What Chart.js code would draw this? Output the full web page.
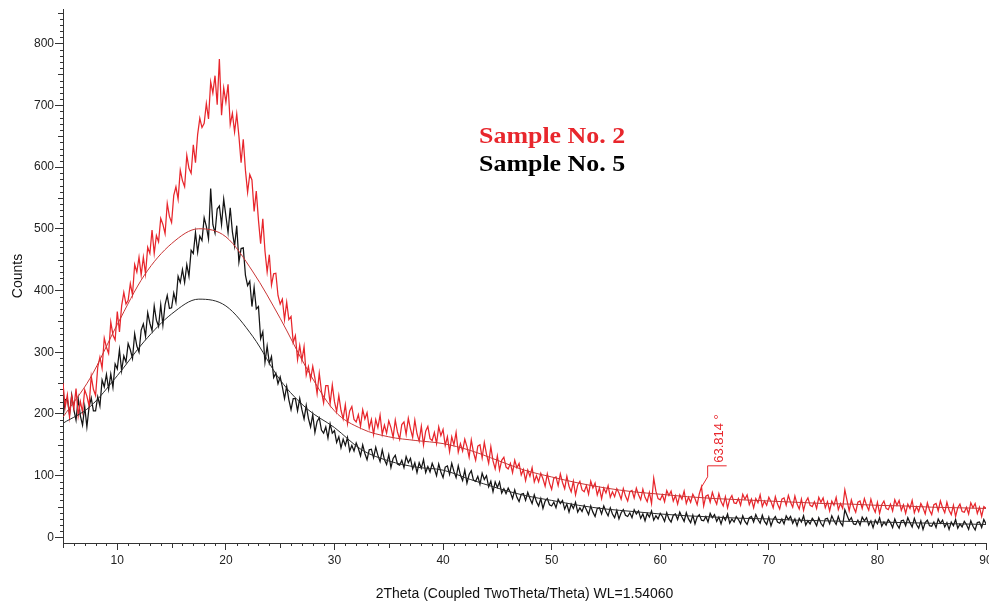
<!DOCTYPE html>
<html><head><meta charset="utf-8">
<script src="https://cdn.jsdelivr.net/npm/chart.js@4.4.1/dist/chart.umd.min.js"></script>
<style>html,body{margin:0;padding:0;background:#fff;}#wrap{width:989px;height:603px;}</style>
</head><body><div id="wrap"><canvas id="c" width="989" height="603"></canvas></div>
<script>
// 2Theta sampling of the measured patterns
const thetaStart = 5, thetaStep = 0.2;
// Sample No. 2 (red) measured counts, 5.0 .. 90.0 every 0.2 (one line = 2 degrees)
const sample2Counts = [
250,211,231,195,229, 209,241,197,220,203,
239,229,213,261,240, 230,276,292,274,323,
308,298,349,328,320, 366,333,375,397,378,
384,411,393,442,430, 454,425,454,427,470,
460,498,460,489,479, 517,507,492,541,520,
510,554,568,548,595, 578,568,619,598,590,
636,607,653,679,664, 671,703,678,738,720,
748,701,775,684,728, 705,734,669,687,657,
686,650,607,645,595, 559,588,579,528,561,
514,476,516,464,430, 458,409,427,428,392,
378,386,353,381,353, 358,316,327,288,311,
287,309,263,277,256, 277,258,233,266,237,
218,246,246,217,247, 220,204,230,206,192,
215,184,205,212,191, 187,199,180,207,192,
202,177,191,167,191, 178,198,167,182,169,
189,178,162,190,171, 159,183,187,167,193,
176,162,190,168,156, 180,150,172,180,160,
157,170,152,179,165, 175,149,163,139,163,
150,170,138,152,140, 159,147,130,158,138,
125,148,150,129,154, 135,120,147,124,111,
132,109,125,130,114, 111,120,105,125,113,
120,101,110,92,109, 99,113,90,100,90,
104,95,83,103,88, 78,96,98,84,103,
89,79,99,83,74, 91,69,85,91,77,
74,84,70,91,80, 88,69,80,63,80,
72,84,65,74,66, 79,72,62,79,67,
59,74,76,64,80, 69,61,78,65,58,
73,55,96,75,63, 61,69,58,76,68,
75,59,68,54,69, 62,75,55,65,57,
70,63,53,71,82, 51,67,69,57,73,
62,54,71,58,51, 66,48,62,68,56,
55,63,52,70,62, 69,53,62,48,63,
56,69,50,59,52, 65,58,48,66,54,
46,62,64,52,68, 57,49,67,54,46,
62,44,58,64,52, 50,58,47,65,57,
64,48,58,43,59, 52,65,45,55,47,
77,60,43,61,49, 41,57,59,47,63,
52,44,62,49,41, 57,39,53,59,47,
45,54,43,61,52, 60,44,53,39,54,
47,60,40,50,42, 55,48,38,56,44,
37,53,55,43,59, 48,40,57,44,37,
52,34,48,54,42, 41,49,38,56,48,
55,39,49,34,50,
47];
// Sample No. 5 (black) measured counts, 5.0 .. 90.0 every 0.2
const sample5Counts = [
193,223,225,199,231, 207,190,225,197,182,
212,179,211,226,205, 205,228,213,255,244,
264,240,265,243,281, 273,304,270,294,284,
314,304,290,330,310, 300,336,346,326,364,
347,335,375,352,342, 377,344,377,392,371,
372,396,381,423,413, 434,413,442,423,465,
460,494,462,488,481, 518,504,484,565,507,
493,532,537,507,548, 521,494,534,495,472,
505,446,468,469,425, 408,415,374,405,370,
374,322,333,284,310, 282,293,259,266,249,
260,244,225,245,223, 207,225,225,205,225,
207,192,214,193,179, 199,170,188,194,174,
169,179,161,184,169, 173,154,163,145,159,
149,162,140,149,140, 153,144,132,150,136,
126,142,143,129,146, 133,123,142,126,118,
134,113,128,133,119, 117,125,113,131,121,
128,111,121,105,121, 112,126,105,115,106,
120,111,100,119,106, 97,114,116,102,120,
107,97,116,101,92, 109,88,102,108,93,
91,99,86,104,94, 100,82,91,74,90,
81,90,72,79,71, 80,73,63,77,65,
58,70,71,60,73, 63,55,69,58,51,
63,47,59,63,53, 51,57,48,62,55,
60,46,54,41,54, 47,57,41,48,42,
52,45,37,51,41, 34,47,48,38,51,
42,35,48,38,32, 44,30,40,45,36,
34,40,32,45,38, 43,31,38,27,39,
33,43,28,35,30, 39,34,26,40,30,
25,36,38,29,41, 33,26,40,30,24,
36,22,33,37,28, 27,34,25,39,32,
37,26,33,22,34, 28,38,23,30,25,
34,29,22,35,26, 21,32,34,25,37,
29,23,36,26,21, 33,19,29,34,25,
23,30,22,35,29, 34,23,30,19,31,
25,35,20,27,22, 31,26,19,32,23,
18,30,31,22,35, 27,21,34,24,19,
45,36,27,32,22, 21,28,20,33,27,
32,20,27,16,28, 22,32,18,25,20,
29,24,16,30,21, 15,27,28,19,32,
24,17,31,21,15, 27,13,24,28,19,
18,25,16,30,23, 28,17,24,13,25,
19,29,15,22,17, 26,21,13,27,18,
12,24,25,16,29,
22];
// Fitted amorphous backgrounds, 5 .. 90 every 2.5
const fitStart = 5, fitStep = 2.5;
const sample2Fit = [195,258,345,425,476,500,487,430,355,272,205,176,163,157,152,141,125,109,98,88,80,74,70,66,63,61,59,57,55,54,52,51,49,48,47];
const sample5Fit = [185,212,262,318,362,386,375,325,255,208,178,142,124,114,109,94,80,68,60,52,46,42,38,35,33,31,30,28,27,26,25,24,23,22,21];
// Axis ticks and labels
const xTickValues = [10,20,30,40,50,60,70,80,90];
const yTickValues = [0,100,200,300,400,500,600,700,800];
const legendLabels = ['Sample No. 2','Sample No. 5'];
const peakTheta = 63.814, peakCounts = 82, peakLabel = '63.814 °';

const RED = '#e8262c', BLACK = '#141414', RED_FIT = '#c93535', BLACK_FIT = '#2a2a2a', AXIS = '#333';
const toPts = (arr, start, step) => arr.map((v, i) => ({x: +(start + i * step).toFixed(2), y: v}));

const axisTicks = {
  id: 'axisTicks',
  afterDraw(chart) {
    const {ctx, scales: {x, y}, chartArea: a} = chart;
    ctx.save(); ctx.strokeStyle = AXIS; ctx.lineWidth = 1; ctx.beginPath();
    for (let v = 5; v <= 90; v++) {
      if (v % 10 === 0) continue;
      const px = Math.round(x.getPixelForValue(v)) + 0.5;
      const len = v % 5 === 0 ? 5 : 3;
      ctx.moveTo(px, a.bottom); ctx.lineTo(px, a.bottom + len);
    }
    for (let v = 0; v <= 850; v += 10) {
      if (v % 100 === 0) continue;
      const py = Math.round(y.getPixelForValue(v)) + 0.5;
      const len = v % 50 === 0 ? 5 : 3;
      ctx.moveTo(a.left, py); ctx.lineTo(a.left - len, py);
    }
    ctx.stroke(); ctx.restore();
  }
};

const notes = {
  id: 'notes',
  afterDatasetsDraw(chart) {
    const {ctx, scales: {x, y}, chartArea: a} = chart;
    ctx.save();
    const colors = [RED, '#000'];
    ctx.font = 'bold 24px "Liberation Serif", "Times New Roman", serif';
    ctx.textBaseline = 'alphabetic'; ctx.textAlign = 'left';
    legendLabels.forEach((t, i) => {
      ctx.save();
      ctx.translate(a.left + 416, a.top + 134 + i * 28);
      ctx.scale(1.08, 1);
      ctx.fillStyle = colors[i];
      ctx.fillText(t, 0, 0);
      ctx.restore();
    });
    const px = x.getPixelForValue(peakTheta), py = y.getPixelForValue(peakCounts);
    ctx.strokeStyle = RED; ctx.lineWidth = 1;
    ctx.beginPath();
    ctx.moveTo(px, py); ctx.lineTo(px + 6, py - 10); ctx.lineTo(px + 6, py - 21); ctx.lineTo(px + 25, py - 21);
    ctx.stroke();
    ctx.translate(px + 21, py - 24); ctx.rotate(-Math.PI / 2);
    ctx.fillStyle = RED; ctx.font = '13px "Liberation Sans", Arial, sans-serif';
    ctx.fillText(peakLabel, 0, 0);
    ctx.restore();
  }
};

const tickFont = {family: '"Liberation Sans", Arial, sans-serif', size: 12};
const titleFont = {family: '"Liberation Sans", Arial, sans-serif', size: 14};

new Chart(document.getElementById('c'), {
  type: 'line',
  data: {datasets: [
    {label: 'Sample No. 2 fit', data: toPts(sample2Fit, fitStart, fitStep), borderColor: RED_FIT, borderWidth: 1, pointRadius: 0, cubicInterpolationMode: 'monotone'},
    {label: 'Sample No. 5 fit', data: toPts(sample5Fit, fitStart, fitStep), borderColor: BLACK_FIT, borderWidth: 1, pointRadius: 0, cubicInterpolationMode: 'monotone'},
    {label: legendLabels[0], data: toPts(sample2Counts, thetaStart, thetaStep), borderColor: RED, borderWidth: 1.25, pointRadius: 0, tension: 0},
    {label: legendLabels[1], data: toPts(sample5Counts, thetaStart, thetaStep), borderColor: BLACK, borderWidth: 1.25, pointRadius: 0, tension: 0}
  ]},
  options: {
    responsive: false, animation: false, devicePixelRatio: 1,
    layout: {padding: {left: 0, right: 3, top: 9, bottom: 0}},
    plugins: {legend: {display: false}, tooltip: {enabled: false}},
    scales: {
      x: {
        type: 'linear', min: 5, max: 90,
        afterBuildTicks: s => { s.ticks = xTickValues.map(v => ({value: v})); },
        afterFit: s => { s.height = 60; s.paddingLeft = 0; s.paddingRight = 0; },
        grid: {drawOnChartArea: false, drawTicks: true, tickLength: 7, color: AXIS, tickColor: AXIS},
        border: {display: true, color: AXIS, width: 1},
        ticks: {autoSkip: false, maxRotation: 0, padding: 3, color: '#222', font: tickFont},
        title: {display: true, text: '2Theta (Coupled TwoTheta/Theta) WL=1.54060', color: '#111', font: titleFont, padding: {top: 0, bottom: 0}}
      },
      y: {
        type: 'linear', min: -9, max: 856,
        afterBuildTicks: s => { s.ticks = yTickValues.map(v => ({value: v})); },
        afterFit: s => { s.width = 63; s.paddingTop = 0; s.paddingBottom = 0; },
        grid: {drawOnChartArea: false, drawTicks: true, tickLength: 8, color: AXIS, tickColor: AXIS},
        border: {display: true, color: AXIS, width: 1},
        ticks: {autoSkip: false, padding: 1, color: '#222', font: tickFont},
        title: {display: true, text: 'Counts', color: '#111', font: titleFont, padding: {top: 10, bottom: 0}}
      }
    }
  },
  plugins: [axisTicks, notes]
});
</script></body></html>
